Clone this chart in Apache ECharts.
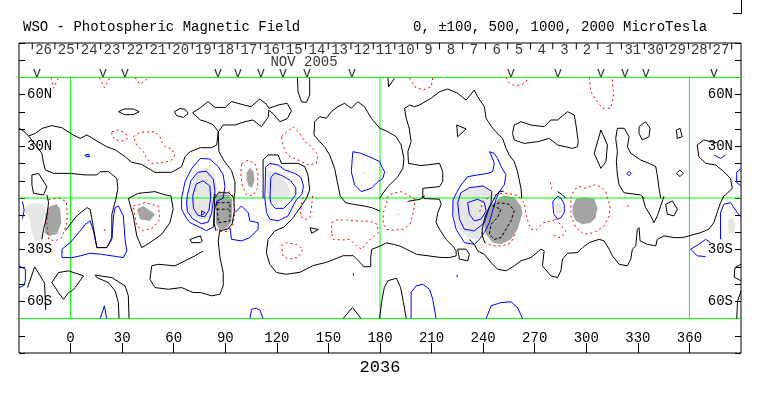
<!DOCTYPE html>
<html>
<head>
<meta charset="utf-8">
<script src="https://cdn.jsdelivr.net/npm/echarts@6/dist/echarts.min.js"></script>
<style>
  html, body { margin: 0; padding: 0; background: #fff; }
  #chart { width: 763px; height: 396px; }
</style>
</head>
<body>
<div id="chart"></div>
<script>
// WSO synoptic chart, Carrington rotation 2036 (longitude / latitude in degrees)
const FONT = 'Liberation Mono';

const latTickValues = [60, 30, -30, -60];
const latTickNames = ['60N', '30N', '30S', '60S'];

// day marks along the top strip (Nov 26 .. Oct 27) and their boundaries in longitude
const dayLabels = ['26','25','24','23','22','21','20','19','18','17','16','15','14','13','12','11',
  '10','9','8','7','6','5','4','3','2','1','31','30','29','28','27'];
const dayTicks = [-22.3, -9.1, 4.1, 17.5, 30.7, 44.3, 57.4, 70.8, 83.6, 97, 110.4, 123.4, 136.7,
  149.9, 163.1, 176.1, 188.6, 201.8, 214.6, 228, 241.4, 254.3, 267.5, 280.5, 294.2, 306.7, 320.4,
  333.8, 346.6, 359.5, 372, 384.6];
// observation markers ("v")
const obsLons = [-19.5, 18.8, 31.6, 85.7, 97.4, 110.8, 123.6, 137.5, 163.7, 256.2, 283.5, 308.5, 322.5, 334.7, 374.3];

// neutral line (0)
const zeroLines = [
  [[71,49.5],[75.5,52.4],[80,56],[84,52.6],[90,52.6],[93.6,56],[99.4,54.4],[105,53],[110,57.5],[114,54.4],[115.3,52],[120.7,54],[126,55],[128.5,50.5],[126,46],[121.7,44.3],[117.8,49],[115.3,51],[115,47],[111,41.4],[106,45.3],[101.4,44.3],[95.6,42.4],[88.8,42.4],[86,38.5],[85,30.8],[82,29.2],[75.5,29.2],[69.5,26.9],[66.6,24],[64.6,18.2],[58.8,14.9],[49,14.9],[41.4,19.5],[35.6,20.7],[31.7,24],[26,28],[21,29.8],[16,32.7],[9.5,36.6],[5.6,34.6],[0.8,37],[-5,40.8],[-11,42],[-16.7,40.4],[-20.5,37.5],[-24.4,36],[-27.3,38.9],[-30,40.4]],
  [[71,49.5],[75.5,45.3],[79,44.3],[83,42.4],[86,38.5]],
  [[-24.4,36],[-16.7,25.9],[-15.7,20.1],[-14.7,16.3],[-9.9,14.3],[-0.2,14.3],[8.5,13.4],[15.3,13.4],[17.2,15.3],[22,15.3],[26.9,11.4],[27.5,5.6],[26.5,0],[24,-9.5],[24,-23],[21.1,-28.8],[15.3,-28.8],[13.3,-17.2],[11.4,-6.5],[9.5,-5.6],[3.6,-10.4],[-1.5,-17],[-3,-19]],
  [[-22.5,13.4],[-18.6,14.3],[-13.8,6.6],[-15.7,1.8],[-21.5,2.7],[-22.5,7.6],[-22.5,13.4]],
  [[-13.8,1.8],[-12.8,-2.7],[-13.8,-10.4],[-15.7,-18.1],[-16.7,-24]],
  [[-25,-52],[-20.9,-40],[-15.1,-49.4],[-14.5,-65]],
  [[-10.9,-49.1],[-7,-43.3],[-1.2,-42.3],[7.5,-45.2],[2.7,-52],[0.8,-53.9],[-1.2,-54.9],[-4.1,-58.8],[-7,-54.9],[-10.9,-49.1]],
  [[28.2,-70],[27.8,-60.7],[25.9,-53.9],[22,-49.1],[15.3,-46.2],[14.3,-44.8],[24,-46.2],[31.7,-51],[33.6,-56.8],[34,-70]],
  [[33.6,-0.2],[36.5,-10.4],[38.5,-22],[41.4,-28.8],[46.2,-25.9],[53,-21.1],[57.8,-14.3],[59.7,-6.5],[58.4,1.2],[54.9,1.8],[49.1,3.7],[39.4,2.7],[33.6,-0.2]],
  [[27.9,50.1],[31.3,51.7],[36.6,51.7],[39.9,50.1],[36.6,48.4],[31.3,48.4],[27.9,50.1]],
  [[60.4,50.1],[63.7,52],[66.6,51.5],[68.5,49.1],[65.6,46.8],[61.7,47.8],[60.4,50.1]],
  [[77,-31],[75.5,-31.7],[72.3,-33.6],[66.5,-36.5],[60.7,-39.4],[51,-38.5],[47.2,-39.4],[46.2,-47.2],[49.1,-52],[56.8,-53],[64.6,-52],[71.3,-54.9],[75.5,-54.9],[79.1,-55.9],[82,-56.8],[86.9,-55.9],[88.8,-51],[88.8,-43.3],[86.9,-34.6],[85.9,-24.9],[86.9,-18.1]],
  [[75.5,-22],[69.5,-24],[70.5,-25.9],[75.5,-25.9],[76.6,-25],[75.5,-22]],
  [[84,2],[83.6,-5],[83.6,-15],[84.5,-19]],
  [[84,0],[86,3],[92,3],[95,0],[95.2,-8],[94,-15],[91.5,-18],[87,-19]],
  [[85.9,38.5],[86.3,27],[89,22],[93.6,16],[95.6,9.5],[95.6,3],[95,0]],
  [[112,-0.2],[112,22.1],[114.9,25],[120.7,25],[122.7,20.1],[132.3,20.1],[136.2,18.2],[138.1,13.4],[139.1,4.6],[137.2,-0.2]],
  [[137.2,-0.2],[134,-5],[129,-12],[124,-17],[118.8,-19.1],[114.9,-24],[113.9,-31.7],[115.9,-38.5],[119.8,-43.3],[125.6,-44.3],[133.5,-43.1],[141.2,-39.2],[149,-37.3],[158.6,-33.5],[164.5,-33.5],[169.3,-38.3],[170.3,-39.9],[174.6,-39.9],[174.6,-34.4],[175.2,-29.8],[180,-27.9],[183.9,-26],[187.8,-26.9],[191.6,-27.9],[195.5,-29.8],[201.3,-32.7],[209,-33.7],[215,-34.5],[220.4,-34.6],[224.3,-33.6],[224.3,-30.7],[222.3,-27.8],[218.4,-24],[214.6,-18.1],[212.6,-14.3],[213.6,-8.5],[215.6,-3.7],[214.6,-0.7],[205.9,-0.3],[204.9,1.2]],
  [[132,70],[132.3,61.7],[134.3,55.9],[137.2,55.5],[139.1,59.8],[139.1,70]],
  [[179.8,-0.2],[181.7,2.7],[184.6,6.6],[187.5,9.5],[190.4,12.4],[193.3,17.2],[193.9,23],[192.3,30.8],[189.4,35.6],[184.6,38.5],[179.9,40.5],[174.9,46.3],[171,53],[167.1,55.9],[163.3,52.1],[159.4,55],[155.5,53],[151.7,50.1],[148.8,46.3],[144.9,47.2],[142,44.3],[141.6,36.6],[144.9,32.7],[147.8,29.8],[150.7,25],[153.6,17.2],[155.5,7.6],[156.9,1.2],[159.9,-2.7],[164.7,-3.7],[170.5,-4.6],[175.2,-5.6],[180,-7.6]],
  [[196,-2.2],[197.4,-1.7],[203.2,-0.8],[206.1,1.2]],
  [[139.3,-17.3],[144.1,-18.3],[140.3,-20.5],[139.3,-17.3]],
  [[158.5,-70],[164,-63.5],[169,-70]],
  [[184.6,70],[185,64.6],[188.5,69.5]],
  [[204.9,-0.2],[204.9,5.6],[214.6,6.6],[216.5,9.5],[216.5,15.3],[214.6,20.1],[203.9,18.8],[196.6,20.1],[196.2,26.9],[198.1,32.7],[197,40.5],[195.2,46.3],[194.3,52.1],[197.2,54],[200.1,53],[203,54],[209.7,57.9],[214.6,61.7],[219.4,63.3],[225.2,60.8],[230.1,56.9],[234.9,62.7],[236.8,58.8],[240.7,53],[241.7,46.3],[245.5,40.5],[251.3,34.6],[253.3,28.8],[255.2,25],[258.1,21.1],[260,15.3],[262,5.6],[262.5,-0.2]],
  [[224.6,42.4],[230.1,40.1],[225.2,35.6],[224.6,42.4]],
  [[257.1,37.5],[258.1,42.4],[262,44.3],[267.8,42.4],[275.5,41.4],[279.4,45.3],[283.3,45.3],[289.1,50.1],[293,48.2],[294,42.4],[295.3,32.7],[294.9,29.8],[292,28.8],[283.3,30.8],[278.4,34.6],[271.7,32.7],[263.9,31.7],[258.1,33.7],[257.1,37.5]],
  [[179.8,-70],[181,-60],[182.5,-52],[184.6,-48],[189.6,-46.6],[192,-52],[193.5,-60],[195.3,-70]],
  [[225.2,-29.7],[230.1,-29.7],[232,-32.7],[231,-36.5],[226.2,-35.5],[225.2,-29.7]],
  [[252,4],[249.4,3.7],[247.5,1.5],[245.5,-2],[243,-6.5],[240.7,-12],[239.5,-18],[239.5,-22],[241,-26]],
  [[232,-24],[234.9,-26.9],[236.8,-30.7],[240.7,-32.7],[244.6,-37.5],[248.4,-41.4],[253.3,-42.3],[258.1,-39.4],[262,-36.5],[267.8,-34.6],[273.6,-29.7],[275.5,-30.7],[274.5,-39.4],[279.4,-45.2],[283.3,-46.2],[285.2,-42.3],[286.2,-35.5],[289.1,-32.1],[294.9,-31.7],[297.8,-28.8],[301.7,-25.9],[307.5,-24],[310.4,-24.9],[313.3,-29.7],[315.2,-33.6],[319.1,-38.5],[323.9,-39.4],[325.9,-35.5],[326.8,-29.7],[328.8,-27.8],[329.7,-18.1],[330.7,-17.2],[331.3,-24.9],[335.5,-26.9],[340.4,-27.8],[341.3,-24],[345.2,-22],[351,-23],[355.8,-23],[359.7,-22],[366.5,-20.1],[371.3,-18.1],[374.2,-14.3],[376.1,-8.5],[378.1,-2.7],[380,1.2],[381,1.8],[384.9,5.6],[383.9,11.4],[380,15.3],[375.2,19.2],[369.4,20.1],[365.5,24],[364.5,30.8],[368.4,33.7],[372.3,32.7],[376,32]],
  [[332.6,1],[334.5,-5.6],[337.5,-10.4],[339.4,-14.3],[341.3,-10.4],[343.3,-4.6],[345.2,1]],
  [[343.3,-0.2],[342.3,5.6],[341.3,13.4],[340.4,18.2],[336.5,20.1],[331.6,22.1],[325.9,26],[323.9,29.8],[324.9,35.6],[322,40.5],[318.1,40.5],[317.1,34.6],[318.1,26.9],[317.5,21.1],[318.1,13.4],[319.1,7.6],[322,3],[331.6,1.8],[333.6,-0.2]],
  [[346.2,-3.7],[350.1,-1.7],[353,-6.5],[351,-10.4],[347.1,-9.4],[346.2,-3.7]],
  [[308.5,39.5],[312.3,30.8],[311.4,21.1],[308.5,17.2],[304.6,25.9],[308.5,39.5]],
  [[330.7,41.4],[334.5,44.3],[337.1,40.5],[336.5,35.6],[332.6,33.7],[330.7,37.5],[330.7,41.4]],
  [[352.5,39.5],[354.5,40.5],[355.8,35.6],[352.9,34.6],[352.5,39.5]],
  [[352.5,14.3],[354.5,16.3],[356.4,14.3],[354.5,12.4],[352.5,14.3]],
  [[283.3,3.7],[286.2,1.8],[288.1,-0.2]],
  [[390,-38.5],[386.5,-40.5],[386,-46],[390,-48]],
  [[390,-54],[388,-60],[387.5,-70]]
];

// +100 contours
const posLines = [
  [[8.5,25],[10.8,25.4],[10.8,23.8],[8.5,24.4],[8.5,25]],
  [[-5,-29.7],[-5,-34.6],[0.8,-34.6],[5.6,-33.6],[11.4,-32.1],[18.2,-32.7],[24,-33.6],[30.7,-34.6],[32.7,-30.7],[31.7,-24],[30.7,-10.4],[27.8,-4.6],[25.9,-5.6],[25,-10.4],[24,-24],[21,-28.8],[15.3,-28.8],[13.3,-19.1],[11.4,-13.3],[8.5,-15.3],[5.6,-19.1],[-0.2,-25.9],[-5,-29.7]],
  [[-28,-2],[-27,-7],[-28,-12]],
  [[-30,-39.4],[-26.3,-41.4],[-26.3,-48],[-27.3,-51],[-30,-52]],
  [[17.2,-70],[19.7,-62.6],[21,-70]],
  [[64.6,0],[66.6,9.5],[70.5,17.2],[75.5,23],[81,22.6],[85.9,18.2],[88.8,13.4],[89.8,6.6],[88.8,0],[85,-2],[83.5,-8],[83,-17],[79,-19],[75.5,-17.2],[69.5,-14.3],[66.6,-10.4],[64.6,-6.5],[64.6,0]],
  [[68,2],[70,10],[74,15],[79,15.5],[83,11],[84,4],[83,-2],[82,-9],[80,-14],[76,-15],[71,-12],[68,-8],[67.5,-3],[68,2]],
  [[71,1],[73,8],[77,10],[81,7],[81.5,0],[80.5,-7],[78,-11],[74,-10],[71.5,-6],[71,1]],
  [[76.2,-7.5],[78.2,-8.5],[76.2,-10],[76.2,-7.5]],
  [[95.6,-8.5],[99.4,-4.6],[103.3,-8.5],[104.3,-13.3],[109.1,-14.3],[109.1,-18.1],[104.3,-23],[99.4,-24.9],[93.6,-24],[92.7,-17.2]],
  [[113,0],[113.5,18],[116,20],[120.7,19.2],[124.6,16.3],[130.4,14.3],[134,12],[135.5,7],[134.5,2],[131.4,-1],[130.4,-2.7],[126.5,-10.4],[120.7,-13.3],[115.9,-12.3],[114,-8.5],[113,0]],
  [[116,0],[116.5,12],[119,14.5],[123,13],[128,10],[131,6],[131,2],[128,-2],[124,-6],[119,-6],[116.5,-3],[116,0]],
  [[164.2,26.9],[169.1,25.9],[175.9,23],[179.9,21.1],[181,18.2],[182.7,15.3],[181.7,11.4],[178.8,9.5],[174.9,5.6],[169.1,3.7],[165.2,7.6],[163.3,15.3],[164.2,26.9]],
  [[247.5,-0.7],[245.5,-7.5],[243.6,-14.3],[240.7,-20.1],[237.8,-24],[234.9,-26.9],[229.1,-25.9],[224.3,-18.1],[222.3,-10.4],[222.5,-1],[224.5,3],[227.2,7.6],[231,12.4],[236.8,13.4],[242.6,14.3],[245.5,15.3],[246.5,20.1],[244.6,25],[243.6,26.9],[246.5,25.9],[248.4,23],[250.4,18.2],[253.3,13.4],[252.3,7.6],[249.4,3.7],[247.5,-0.7]],
  [[225.2,-2.7],[227,3],[232,6],[240,7],[245,4],[244.6,-2.7],[242.6,-8.5],[240.7,-14.3],[234.9,-19.1],[229.1,-18.1],[226.2,-12.3],[225.2,-2.7]],
  [[231,-2.7],[232,-9.5],[234.9,-13.3],[238.8,-12.3],[241.7,-7.5],[240.7,-2.7],[236.8,-0.7],[231,-2.7]],
  [[164.4,-43.6],[164.6,-45]],
  [[104.3,-70],[105.3,-64.6],[108,-64],[110.1,-65],[112,-70]],
  [[198.1,-70],[198.1,-54.9],[201,-51],[204.9,-50.1],[208.8,-53],[210.7,-58.8],[212.6,-70]],
  [[241.7,-70],[244.6,-62.6],[250.4,-60.7],[256.2,-60.3],[260,-63.6],[262.9,-70]],
  [[224.9,-44.5],[224.9,-46]],
  [[280.5,-2],[283.3,1],[285.2,0],[287.2,-3.7],[287.2,-8.5],[285.2,-11.4],[283.3,-12.3],[281,-9],[280.5,-2]],
  [[378.1,-24],[378.1,-8.5],[380,-3.7],[383.9,-2.7],[387.8,-8.5],[390,-11]],
  [[372.3,-25.9],[369.4,-24],[365.5,-26.9],[360.7,-29.7],[364.6,-33.6],[369.4,-34]],
  [[323.5,14.2],[324.9,15.4],[326.2,14.2],[324.9,13],[323.5,14.2]],
  [[374.2,25],[378.1,23],[381,25]],
  [[390,17],[387.5,15],[387.5,9],[390,7]]
];

// -100 contours
const negLines = [
  [[-11.4,69.9],[-9.9,63.7],[-7.4,69.1]],
  [[16.8,69.9],[19.7,64],[22.6,69.5]],
  [[37.5,69.9],[40.4,66],[44.9,69.5]],
  [[24,38.5],[27.8,39.5],[32.1,37.5],[33.2,34.6],[30.7,33.1],[25.9,33.7],[24,36.6],[24,38.5]],
  [[36.5,35.6],[40.4,38.1],[49.1,38.5],[52,35.6],[53,32.7],[54.9,29.8],[58.8,28.5],[60.7,25],[58.8,22.1],[54.9,20.7],[47.2,20.1],[44.3,23],[42.3,26.9],[38.5,30.8],[36.5,35.6]],
  [[-12.8,-1],[-7,0],[-2.5,-2],[-2,-8],[-2.1,-14.3],[-5,-23],[-8.9,-24.9],[-12.8,-24],[-13.8,-14.3],[-13,-6],[-12.8,-1]],
  [[83.8,1.5],[86,3.5],[92.5,3.5],[95,0.5],[95.5,-8],[94.5,-16],[91,-19.5],[86,-19.5],[84,-16]],
  [[99.6,19.9],[103.3,22],[107.2,20],[109.1,13.4],[108.7,5.6],[106.2,1.4],[102.4,1.8],[99.8,7.6],[99,14.3],[99.6,19.9]],
  [[122.7,35.6],[129.4,41.4],[133.3,37.5],[136.2,32.7],[140.1,29.8],[144,25],[143,20.1],[138.1,19.2],[132.3,22.1],[127.5,24],[125,26.9],[123.6,30.8],[122.7,35.6]],
  [[197.2,69.8],[200.1,64.6],[204.9,62.7],[209.8,64.6],[210.7,70]],
  [[253.3,70],[255,67],[258,65.3],[262,65.6],[265,67.5],[266,70]],
  [[238,-8],[240,-2],[245,1.5],[252,3],[260,1.5],[264,-3],[265,-10],[266.5,-15],[268,-18.1],[271,-18.5],[275,-14.3],[280,-13.3],[283,-12]],
  [[239,-20],[241,-25.9],[245.5,-27.8],[251.3,-27.8],[256.2,-25.9],[258.5,-21]],
  [[200.4,-0.8],[196.2,1.8],[192.3,3.7],[187.5,2.7],[184.6,1],[183.9,-2.7],[181.9,-8.5],[181.9,-15.3],[183.9,-18.2],[187.7,-18.7],[193.5,-18.2],[197.4,-15.3],[199.4,-8.5],[200.4,-0.8]],
  [[151.9,-20.2],[151.9,-14.3],[154.8,-12.8],[160.6,-12.8],[167.4,-13.4],[174.2,-13.4],[178.4,-15.3],[179,-20.2],[175.2,-23.1],[172.3,-26],[169.3,-29.8],[166.4,-27.9],[162.5,-24],[157.7,-24.4],[152.8,-24],[151.9,-20.2]],
  [[122.7,-27.8],[125.6,-25.9],[131.4,-26.9],[135.2,-29.7],[132.3,-34.6],[126.5,-35.5],[123.6,-33.6],[122.7,-27.8]],
  [[140.8,1.2],[140.2,-4.6],[139.3,-11.4],[136.4,-12.4],[133.5,-10.4],[134.4,-2.7],[135.5,1.2]],
  [[291,-0.2],[293,4.7],[295.9,6.6],[299.7,5.6],[304.6,7.6],[308.5,6.6],[311.4,3.7],[312.3,0],[313.9,-4.6],[313.3,-10.4],[310.4,-16.2],[304.6,-20.1],[298.8,-21.1],[294,-17.2],[291,-10.4],[291,-0.2]],
  [[282,-12],[285,-15.5],[288,-19],[286,-22.5],[283.3,-23],[280,-21]],
  [[323.8,-4.4],[325,-4.8]],
  [[301.7,70],[302.6,61.7],[306.5,55.9],[309.4,52.1],[314.2,52.1],[315.8,59.8],[315.2,70]],
  [[279,9],[280,6],[279,4]],
  [[36.5,-4.6],[43.3,-2.7],[51,-4.6],[52,-12.3],[48.1,-17.2],[42.3,-19.1],[38.5,-16.2],[36.5,-4.6]],
  [[19.8,-18],[20.5,-21]]
];

// strong-field contours (dashed black inside dark patches)
const strongLines = [
  [[85,-2.7],[92.7,-2.7],[92.7,-13.3],[86,-14.3],[85,-2.7]],
  [[85,-6.5],[92,-6.5]],
  [[245.5,-4.6],[249.4,-2.7],[255.2,-3.7],[258.1,-7.5],[256.2,-13.3],[253.3,-18.1],[250.4,-23],[246.5,-24],[243.6,-21.1],[244.6,-15.3],[248.4,-11.4],[250.4,-6.5],[245.5,-4.6]]
];

// shaded areas: 500 (light) and 1000 (dark)
const lightPatches = [
  [[70.5,7.6],[72.5,13],[75.5,17],[80,17.6],[84,13.4],[85,5.6],[84,-0.2],[82.4,-5],[82,-11],[79,-12.5],[75,-12],[70,-10],[67,-6],[67,0],[70.5,7.6]],
  [[-26.3,-4.6],[-21.5,-2.7],[-15.7,-3.7],[-14.7,-6.5],[-15.7,-14.3],[-16.7,-24],[-20.5,-24.9],[-22.5,-20.1],[-24.4,-10.4],[-26.3,-7.5]],
  [[114,16],[119.8,15.3],[123.6,11.4],[126.5,7.6],[127.5,2.7],[126,-1.5],[120,-2.5],[115,-1.5],[114,5],[114,16]],
  [[169,14.8],[172,15],[171,14],[169,14.8]],
  [[222.5,0],[223,-11],[226,-18],[231,-23],[236.8,-24],[240.7,-18],[242.6,-10.4],[244.6,-4.6],[246.5,-0.7],[246,3],[244,5],[238,6.5],[232,6],[228,3],[222.5,0]],
  [[188.3,-10],[190,-9.3],[190.6,-8.6],[191.5,-9.3],[192.6,-10],[188.3,-10]],
  [[282,-3],[285,-3],[286,-6.5],[285,-9],[282.5,-9],[282,-3]],
  [[382.3,-13.3],[384.9,-11.4],[386.8,-14.3],[386.3,-20.1],[383,-21.1],[382.3,-13.3]]
];
const darkPatches = [
  [[84.5,0.5],[86,2],[92,2],[94,-1],[94,-8],[93.5,-14],[90.5,-18],[86.5,-18],[84.5,-15],[84.3,-5],[84.5,0.5]],
  [[-14.7,-9.4],[-11.8,-4.6],[-8,-3.7],[-6,-6.5],[-5.4,-14.3],[-8,-21],[-12.8,-22],[-15.1,-20.1],[-14.7,-9.4]],
  [[102.5,15],[104.5,17.5],[106.5,15],[107,10],[105.5,6],[103.5,7],[102.3,11],[102.5,15]],
  [[241,-10.4],[243.6,-4.6],[247.5,-1.7],[250,0.5],[252.3,1.5],[258.1,0.5],[262,-4.6],[262.9,-8.5],[260,-18.1],[256.2,-24],[250.4,-26.9],[245.5,-25.9],[241.5,-21.1],[240.5,-15],[241,-10.4]],
  [[292,-4.6],[294,-0.5],[298.8,0.5],[304.6,-0.5],[306.5,-5.6],[305.5,-11.4],[302.6,-14.3],[297.8,-15.3],[294,-13.3],[292,-9.4],[292,-4.6]],
  [[38.5,-6.5],[42.3,-4.6],[49.1,-9.4],[46.2,-13.3],[40.4,-12.3],[38.5,-6.5]]
];

// reference lines (green)
const guideLines = [
  [[0,-70],[0,70]], [[180,-70],[180,70]], [[360,-70],[360,70]],
  [[-30,70],[390,70]], [[-30,0],[390,0]], [[-30,-70],[390,-70]]
];

function polyData(list) {
  return list.map(function (pts) { return { coords: pts }; });
}
function patchSeries(list, color) {
  return {
    type: 'custom',
    silent: true,
    data: list.map(function (p) { return p[0]; }),
    renderItem: function (params, api) {
      const pts = list[params.dataIndex].map(function (p) { return api.coord(p); });
      return { type: 'polygon', shape: { points: pts }, style: { fill: color } };
    }
  };
}
function lineSeries(list, color, type) {
  return {
    type: 'lines',
    coordinateSystem: 'cartesian2d',
    polyline: true,
    silent: true,
    lineStyle: { color: color, width: 1, opacity: 1, type: type || 'solid' },
    data: polyData(list)
  };
}

const textStyle = { fontFamily: FONT, fontSize: 14, color: '#000' };

const dayItems = dayLabels.map(function (d, i) {
  return { name: d, value: [(dayTicks[i] + dayTicks[i + 1]) / 2, 86] };
});
const dayTickLines = dayTicks.map(function (t) { return [[t, 90], [t, 86.3]]; });

const chart = echarts.init(document.getElementById('chart'), null, { renderer: 'canvas' });
chart.setOption({
  animation: false,
  backgroundColor: '#fff',
  title: [
    { text: 'WSO - Photospheric Magnetic Field', left: 23, top: 20, padding: 0,
      textStyle: Object.assign({ fontWeight: 'normal' }, textStyle) },
    { text: '0, \u00b1100, 500, 1000, 2000 MicroTesla', left: 413, top: 20, padding: 0,
      textStyle: Object.assign({ fontWeight: 'normal' }, textStyle) }
  ],
  graphic: [{
    type: 'polyline', silent: true,
    shape: { points: [[733, 13.5], [741.5, 13.5], [741.5, 0]] },
    style: { stroke: '#000', lineWidth: 1, fill: null }
  }],
  grid: { left: 19, top: 43, width: 722, height: 310, show: true, borderColor: '#000', borderWidth: 1 },
  xAxis: {
    type: 'value', min: -30, max: 390, interval: 30, position: 'bottom',
    axisLine: { show: false, onZero: false },
    splitLine: { show: false },
    axisTick: { show: true, inside: true, length: 10, lineStyle: { color: '#000' } },
    axisLabel: Object.assign({ inside: true, margin: 8, showMinLabel: false, showMaxLabel: false }, textStyle),
    name: '2036', nameLocation: 'middle', nameGap: 4,
    nameTextStyle: { fontFamily: FONT, fontSize: 17, color: '#000', verticalAlign: 'top' }
  },
  yAxis: ['left', 'right'].map(function (pos) {
    return {
      type: 'value', min: -90, max: 90, interval: 10, position: pos,
      axisLine: { show: false, onZero: false },
      splitLine: { show: false },
      axisTick: { show: true, inside: true, length: 6, lineStyle: { color: '#000' } },
      axisLabel: Object.assign({
        inside: true, margin: 8,
        formatter: function (v) {
          const k = latTickValues.indexOf(v);
          return k < 0 ? '' : latTickNames[k];
        }
      }, textStyle)
    };
  }),
  series: [
    patchSeries(lightPatches, '#e6e6e6'),
    patchSeries(darkPatches, '#a4a4a4'),
    lineSeries(guideLines, '#00ff00'),
    lineSeries(posLines, '#0000ff'),
    lineSeries(negLines, '#ff0000', [2, 3]),
    lineSeries(zeroLines, '#000000'),
    lineSeries(strongLines, '#000000', [3, 2]),
    lineSeries(dayTickLines, '#000000'),
    {
      type: 'scatter', silent: true, symbolSize: 1,
      itemStyle: { color: 'rgba(0,0,0,0)' },
      label: Object.assign({ show: true, position: 'inside', formatter: '{b}' }, textStyle),
      data: dayItems
    },
    {
      type: 'scatter', silent: true, symbolSize: 1,
      itemStyle: { color: 'rgba(0,0,0,0)' },
      label: Object.assign({ show: true, position: 'inside', formatter: 'v' }, textStyle),
      data: obsLons.map(function (x) { return [x, 72.6]; })
    },
    {
      type: 'scatter', silent: true, symbolSize: 1,
      itemStyle: { color: 'rgba(0,0,0,0)' },
      label: Object.assign({ show: true, position: 'inside', formatter: 'NOV 2005' }, textStyle),
      data: [[135.8, 78.6]]
    }
  ]
});
</script>
</body>
</html>
